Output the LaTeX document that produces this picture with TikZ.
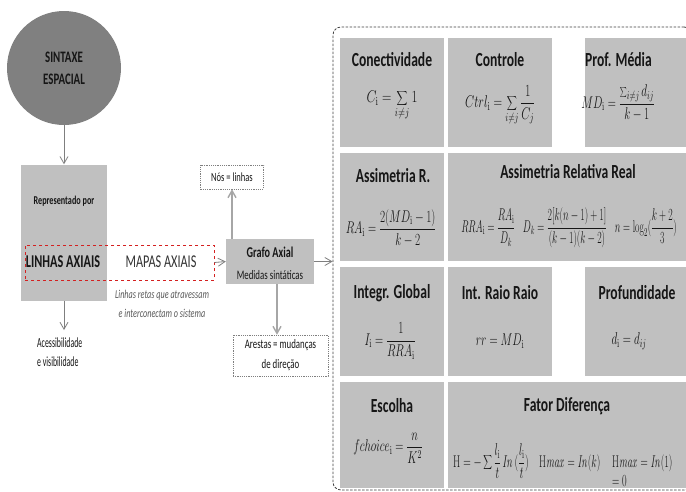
\RequirePackage{fix-cm}
\documentclass[tikz,border=0pt]{standalone}
\usepackage[no-math]{fontspec}
\setmainfont{Carlito}[FakeStretch=0.68]
\newfontfamily\narrowfont{Carlito}[FakeStretch=0.56]
\usepackage{graphicx}
\usetikzlibrary{arrows.meta}
\definecolor{cellgray}{HTML}{C0C0C0}
\definecolor{circgray}{HTML}{808080}
\definecolor{linegray}{HTML}{7F7F7F}
\definecolor{lightline}{HTML}{A6A6A6}
\definecolor{txt}{HTML}{161616}
\definecolor{redd}{HTML}{D42020}
\newcommand{\fm}[2][0.66]{\scalebox{#1}[1]{\fontsize{17}{20}\selectfont$\displaystyle #2$}}
\newcommand{\ii}{\mathrm{i}}
\tikzset{
  arr/.style={draw=linegray, line width=0.8pt, -{Straight Barb[length=7pt,width=8pt]}},
  arrlight/.style={draw=lightline, line width=1.4pt, -{Straight Barb[length=7pt,width=8pt]}},
  ttl/.style={font=\fontsize{20}{24}\selectfont\bfseries, text=txt, inner sep=0},
  fml/.style={text=txt, inner sep=0},
  lbl/.style={text=txt, inner sep=0},
  dotbox/.style={draw=linegray, dash pattern=on 1.2pt off 1pt, line width=0.6pt, inner sep=0},
}
\begin{document}
\begin{tikzpicture}[x=1pt,y=-1pt]
\useasboundingbox (0,0) rectangle (686,491);
\fill[white] (0,0) rectangle (686,491);

% left part
\node[circle, fill=circgray, minimum size=114pt, inner sep=0] (circ) at (64,68) {};
\node[lbl, align=center, font=\fontsize{16}{22}\selectfont\bfseries] (sint) at (64,68) {SINTAXE\\ESPACIAL};
\node[fill=cellgray, minimum width=86pt, minimum height=136pt, inner sep=0] (rep) at (64,232.5) {};
\node[lbl, font=\fontsize{12}{14}\selectfont\bfseries] (reptxt) at (64,201) {Representado por};
\node[draw=redd, dashed, line width=0.9pt, minimum width=189pt, minimum height=35pt, inner sep=0] (red) at (119.5,262.5) {};
\node[lbl, font=\fontsize{18}{20}\selectfont\bfseries] (linhas) at (63,262) {LINHAS AXIAIS};
\node[lbl, text=black!80, font=\fontsize{18}{20}\selectfont] (mapas) at (161,262) {MAPAS AXIAIS};
\node[lbl, text=black!65, align=center, font=\fontsize{12}{19}\selectfont\itshape] (retas) at (162,304) {Linhas retas que atravessam\\e interconectam o sistema};
\node[lbl, align=left, anchor=north west, font=\narrowfont\fontsize{14}{19}\selectfont] (acc) at (37,338) {Acessibilidade\\e visibilidade};

\node[fill=cellgray, minimum width=88pt, minimum height=45pt, inner sep=0] (grafo) at (270,261.5) {};
\node[lbl, font=\fontsize{15}{18}\selectfont\bfseries] (grafot) at (270,252) {Grafo Axial};
\node[lbl, font=\fontsize{13}{16}\selectfont] (medidas) at (270,275) {Medidas sintáticas};
\node[dotbox, minimum width=63pt, minimum height=24pt, font=\fontsize{12.5}{15}\selectfont, text=txt] (nos) at (232,177) {Nós = linhas};
\node[dotbox, minimum width=95pt, minimum height=41pt, align=center, font=\fontsize{13}{20}\selectfont, text=txt] (arestas) at (280.5,355.5) {Arestas = mudanças\\de direção};

% container
\node[draw=black!75, dash pattern=on 2.5pt off 1.5pt, line width=0.8pt, rounded corners=8pt, minimum width=359pt, minimum height=463pt, inner sep=0] (cont) at (512.5,258.5) {};

% connectors
\draw[arr] (circ.south) -- (rep.north);
\draw[arr] (rep.south) -- (64,330);
\draw[arr] (red.east) -- (grafo.west);
\draw[arr] (grafo.east) -- (grafo.east -| cont.west);
\draw[arrlight] (nos.south |- grafo.north) -- (nos.south);
\draw[arrlight] (277,284) -- (arestas.north -| 277,0);

% cells
\fill[cellgray] (340,38) rectangle (444,147);
\fill[cellgray] (448,38) rectangle (552,147);
\fill[cellgray] (585,38) rectangle (690,147);
\fill[cellgray] (340,153) rectangle (444,261);
\fill[cellgray] (448,153) rectangle (690,261);
\fill[cellgray] (340,267) rectangle (444,376);
\fill[cellgray] (448,267) rectangle (552,376);
\fill[cellgray] (585,267) rectangle (690,376);
\fill[cellgray] (340,382) rectangle (444,488);
\fill[cellgray] (448,382) rectangle (690,488);

% titles
\node[ttl] (t11) at (392,60) {Conectividade};
\node[ttl] (t12) at (500,60) {Controle};
\node[ttl, anchor=west] (t13) at (585,60) {Prof. Média};
\node[ttl] (t21) at (393,176) {Assimetria R.};
\node[ttl] (t22) at (568,172) {Assimetria Relativa Real};
\node[ttl] (t31) at (392,293) {Integr. Global};
\node[ttl] (t32) at (500,293) {Int. Raio Raio};
\node[ttl] (t33) at (637,293) {Profundidade};
\node[ttl] (t41) at (392,406) {Escolha};
\node[ttl] (t42) at (567,406) {Fator Diferença};

% formulas
\node[fml] (f11) at (392,105) {\fm[0.76]{C_{\ii} = \sum_{i\neq j} 1}};
\node[fml] (f12) at (500,105) {\fm[0.7]{Ctrl_{\ii} = \sum_{i\neq j}\frac{1}{C_j}}};
\node[fml] (f13) at (618,103) {\fm{MD_{\ii} = \frac{\sum_{i\neq j} d_{ij}}{k-1}}};
\node[fml] (f21) at (391,228) {\fm{RA_{\ii} = \frac{2(MD_{\ii}-1)}{k-2}}};
\node[fml] (f22) at (569,228) {\fm[0.565]{RRA_{\ii} = \frac{RA_{\ii}}{D_k}\;\;\; D_k = \frac{2[k(n-1)+1]}{(k-1)(k-2)}\;\;\; n = \log_2(\frac{k+2}{3})}};
\node[fml] (f31) at (390,341) {\fm{I_{\ii} = \frac{1}{RRA_{\ii}}}};
\node[fml] (f32) at (500,341) {\fm{rr = MD_{\ii}}};
\node[fml] (f33) at (629,341) {\fm{d_{\ii} = d_{ij}}};
\node[fml] (f41) at (388,448) {\fm{fchoice_{\ii} = \frac{n}{K^2}}};
\node[fml, anchor=base west] (f42) at (453,467) {\fm[0.61]{\mathrm{H} = -\sum\frac{l_{\ii}}{t}\,\mathit{In}\,(\frac{l_{\ii}}{t})}};
\node[fml, anchor=base west] (f43) at (539,467) {\fm[0.59]{\mathrm{H}\mathit{max} = \mathit{In}(k)}};
\node[fml, anchor=base west] (f44) at (612,467) {\fm[0.59]{\mathrm{H}\mathit{max} = \mathit{In}(1)}};
\node[fml, anchor=base west] (f45) at (612,486) {\fm[0.59]{= 0}};
\end{tikzpicture}
\end{document}
